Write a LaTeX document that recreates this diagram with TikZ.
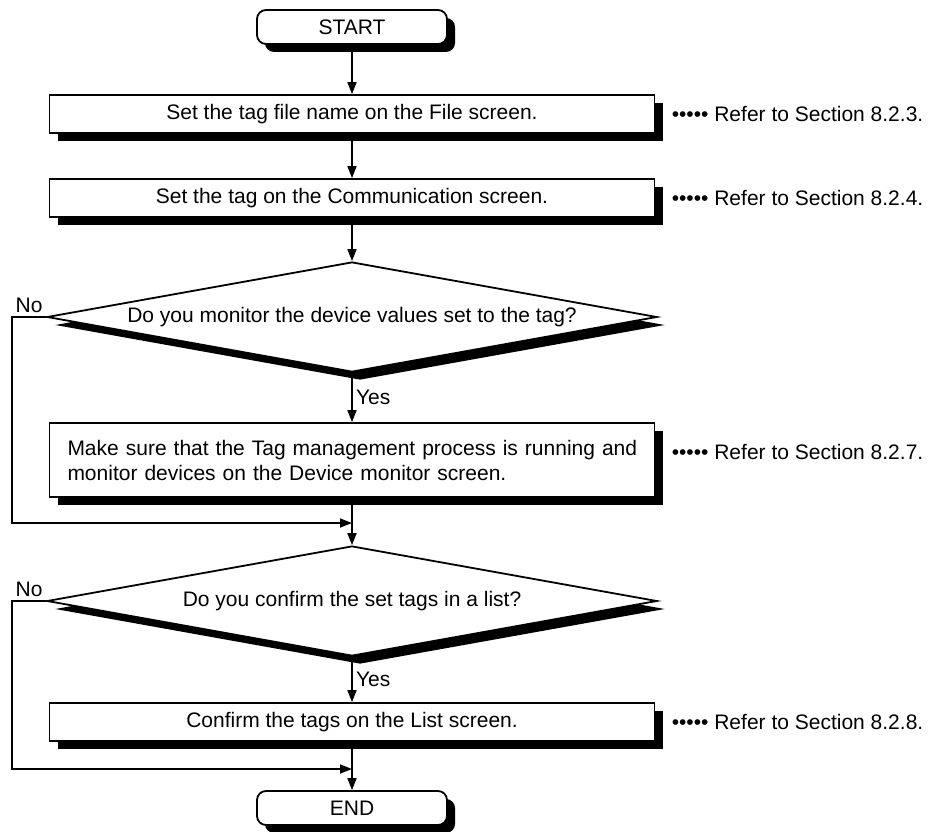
\documentclass[tikz,border=0pt]{standalone}
\usepackage{fontspec}
\setmainfont{Liberation Sans}
\usetikzlibrary{arrows.meta, positioning, shapes.geometric, shadows}

\begin{document}
\begin{tikzpicture}[
    x=1pt, y=-1pt,
    ->,
    >={Triangle[length=12pt, width=9pt]},
    line width=1.5pt,
    font=\fontsize{21}{25}\selectfont,
    blackshadow/.style={drop shadow={shadow xshift=8pt, shadow yshift=-8pt, fill=black, opacity=1}},
    terminal/.style={rectangle, rounded corners=9pt, draw, fill=white, blackshadow, line width=1.8pt, minimum width=190pt, minimum height=34pt},
    process/.style={rectangle, draw, fill=white, blackshadow, line width=1.8pt, minimum width=605pt, minimum height=38pt},
    decision/.style={diamond, aspect=5.5, draw, fill=white, blackshadow, line width=1.8pt, inner sep=0pt, minimum width=610pt, minimum height=110pt},
    refer/.style={anchor=west, inner sep=0pt},
]

    \useasboundingbox (0,0) rectangle (931,832);

    \node[terminal] (start)  at (352, 27)  {START};
    \node[process]  (file)   at (352, 114) {Set the tag file name on the File screen.};
    \node[process]  (comm)   at (352, 198) {Set the tag on the Communication screen.};
    \node[decision] (mon)    at (352, 317) {Do you monitor the device values set to the tag?};
    \node[process, minimum height=74pt, text width=585pt, inner xsep=10pt, align=left]
                    (devmon) at (352, 460) {\hspace*{8pt}Make sure that the Tag management process is running and\\\hspace*{8pt}monitor devices on the Device monitor screen.};
    \node[decision] (lst)    at (352, 601) {Do you confirm the set tags in a list?};
    \node[process]  (conf)   at (352, 722) {Confirm the tags on the List screen.};
    \node[terminal] (end)    at (352, 808) {END};

    \node[refer] (ref1) at (671, 114) {••••• Refer to Section 8.2.3.};
    \node[refer] (ref2) at (671, 198) {••••• Refer to Section 8.2.4.};
    \node[refer] (ref3) at (671, 452) {••••• Refer to Section 8.2.7.};
    \node[refer] (ref4) at (671, 722) {••••• Refer to Section 8.2.8.};

    \coordinate (join1) at (352, 523);
    \coordinate (join2) at (352, 769);
    \coordinate (left1) at (12, 317);
    \coordinate (left2) at (12, 601);

    \path
        (start)  edge                       (file)
        (file)   edge                       (comm)
        (comm)   edge                       (mon)
        (mon)    edge node [right] {Yes}    (devmon)
        (devmon) edge [-]                   (join1)
        (join1)  edge                       (lst)
        (lst)    edge node [right] {Yes}    (conf)
        (conf)   edge [-]                   (join2)
        (join2)  edge                       (end)
    ;

    \draw (mon.west) -- node [above] {No} (left1) |- (join1);
    \draw (lst.west) -- node [above] {No} (left2) |- (join2);
\end{tikzpicture}
\end{document}
